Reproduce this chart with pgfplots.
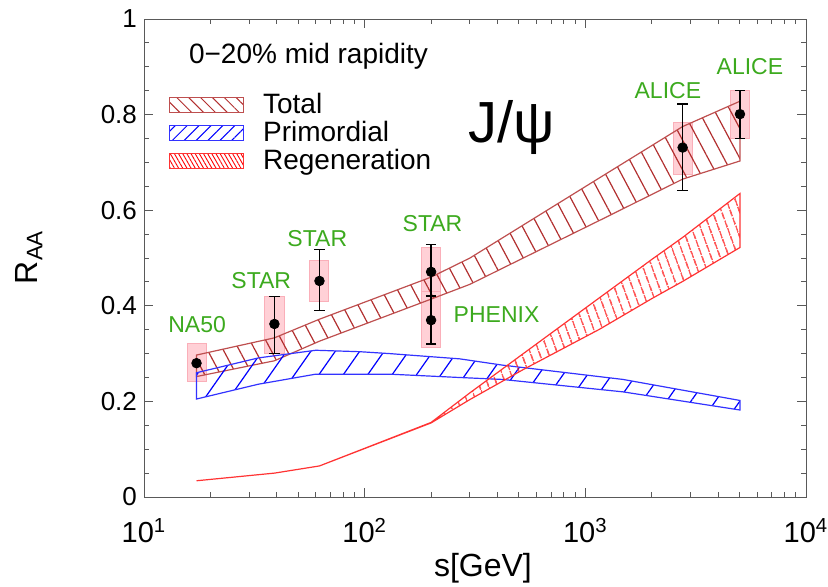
\documentclass[border=0pt]{standalone}
\usepackage{pgfplots}
\pgfplotsset{compat=1.18}
\usepackage{fontspec}
\setmainfont{Liberation Sans}
\usetikzlibrary{patterns.meta}

\definecolor{totc}{RGB}{178,48,48}
\definecolor{primc}{RGB}{0,0,255}
\definecolor{regc}{RGB}{255,0,0}
\definecolor{labc}{RGB}{60,170,30}
\definecolor{boxf}{RGB}{255,208,214}
\definecolor{boxd}{RGB}{250,175,185}

% systematic boxes: x1 x2 ylo yhi
\pgfplotsset{
  sysbox/.style={fill=boxf, draw=boxd, line width=0.5pt, forget plot},
}

\begin{document}
\begin{tikzpicture}
\begin{axis}[
  name=ax,
  scale only axis,
  width=331pt, height=239pt,
  xmode=log,
  xmin=10, xmax=10000,
  ymin=0, ymax=1,
  xtick={10,100,1000,10000},
  xticklabels={10\textsuperscript{1},10\textsuperscript{2},10\textsuperscript{3},10\textsuperscript{4}},
  ytick={0,0.2,0.4,0.6,0.8,1},
  minor y tick num=3,
  xtick pos=both, ytick pos=both,
  xticklabel pos=lower, yticklabel pos=left,
  tick align=inside,
  major tick length=4.5pt, minor tick length=2.5pt,
  axis line style={black!65},
  tick style={black!65, line width=0.5pt},
  /pgf/number format/assume math mode=true,
  /pgf/number format/.cd, fixed, precision=1, /pgfplots/.cd,
  tick label style={font=\fontsize{13}{15}\selectfont},
  xticklabel style={yshift=-7pt, font=\fontsize{14.5}{16}\selectfont},
  xlabel={s[GeV]},
  ylabel={R\textsubscript{AA}},
  label style={font=\fontsize{16}{18}\selectfont},
  xlabel style={at={(axis description cs:0.512,-0.150)}, anchor=center},
  ylabel style={at={(axis description cs:-0.174,0.502)}, anchor=center},
  legend style={at={(0.037,0.848)}, anchor=north west, draw=none, fill=none,
    font=\fontsize{14}{15}\selectfont, inner sep=0pt,
    nodes={inner sep=0.6pt}, row sep=1.2pt,
    /tikz/every odd column/.style={column sep=9pt}},
  legend cell align=left,
]

% systematic uncertainty boxes
\addplot[sysbox] coordinates {(15.67,0.241) (19.10,0.241) (19.10,0.322) (15.67,0.322)} -- cycle;
\addplot[sysbox] coordinates {(35.3,0.300) (43.1,0.300) (43.1,0.420) (35.3,0.420)} -- cycle;
\addplot[sysbox] coordinates {(56.5,0.408) (68.9,0.408) (68.9,0.494) (56.5,0.494)} -- cycle;
\addplot[sysbox] coordinates {(181.2,0.430) (220.8,0.430) (220.8,0.522) (181.2,0.522)} -- cycle;
\addplot[sysbox] coordinates {(181.2,0.312) (220.8,0.312) (220.8,0.430) (181.2,0.430)} -- cycle;
\addplot[sysbox] coordinates {(2500,0.675) (3047,0.675) (3047,0.784) (2500,0.784)} -- cycle;
\addplot[sysbox] coordinates {(4547,0.750) (5542,0.750) (5542,0.851) (4547,0.851)} -- cycle;

% Total band
\addplot[draw=totc!85, line width=0.6pt,
  pattern={Lines[angle=-62, distance=7pt, line width=0.6pt]}, pattern color=totc,
  legend image code/.code={\draw[draw=totc!85, line width=0.6pt,
    pattern={Lines[angle=-45, distance=4.2pt, line width=0.5pt]}, pattern color=totc]
    (0pt,-3.6pt) rectangle (37pt,3.6pt);}]
coordinates {
  (17.3,0.297) (39,0.333) (62.4,0.372) (200,0.460) (300,0.500) (1200,0.672) (2760,0.775) (5020,0.828)
  (5020,0.703) (2760,0.665) (1200,0.582) (300,0.445) (200,0.414) (62.4,0.326) (39,0.285) (17.3,0.252)
} -- cycle;
\addlegendentry{Total}

% Primordial band
\addplot[draw=primc!80, line width=0.6pt,
  pattern={Lines[angle=55, distance=10pt, line width=0.6pt]}, pattern color=primc,
  legend image code/.code={\draw[draw=primc!80, line width=0.6pt,
    pattern={Lines[angle=45, distance=4.2pt, line width=0.5pt]}, pattern color=primc]
    (0pt,-3.6pt) rectangle (37pt,3.6pt);}]
coordinates {
  (17.3,0.260) (33,0.291) (60,0.307) (95,0.304) (130,0.300) (270,0.289) (420,0.276) (1480,0.246) (5020,0.202)
  (5020,0.182) (1480,0.220) (420,0.246) (270,0.250) (130,0.257) (95,0.257) (60,0.257) (33,0.236) (17.3,0.205)
} -- cycle;
\addlegendentry{Primordial}

% Regeneration band
\addplot[draw=regc!80, line width=0.6pt,
  pattern={Lines[angle=-70, distance=4pt, line width=0.55pt]}, pattern color=regc,
  legend image code/.code={\draw[draw=regc!80, line width=0.6pt,
    pattern={Lines[angle=-60, distance=1.8pt, line width=0.45pt]}, pattern color=regc]
    (0pt,-3.6pt) rectangle (37pt,3.6pt);}]
coordinates {
  (17.3,0.034) (39,0.050) (62.4,0.065) (200,0.156) (300,0.218) (520,0.299) (1160,0.417) (2000,0.497) (2760,0.543) (5020,0.635)
  (5020,0.522) (2760,0.451) (2000,0.415) (1160,0.351) (520,0.266) (300,0.204) (200,0.155) (62.4,0.065) (39,0.050) (17.3,0.034)
} -- cycle;
\addlegendentry{Regeneration}

% data points
\addplot[only marks, mark=*, mark size=2.4pt, black, forget plot]
coordinates {(17.3,0.280)};
\addplot[only marks, mark=*, mark size=2.4pt, black, forget plot,
  error bars/.cd, y dir=both, y explicit,
  error bar style={line width=0.6pt, black},
  error mark options={rotate=90, mark size=2.6pt, line width=0.6pt, black}]
table[x=x, y=y, y error plus=ep, y error minus=em] {
  x     y      ep     em
  39    0.362  0.058  0.062
  62.4  0.452  0.065  0.061
  200   0.471  0.058  0.052
  200   0.370  0.051  0.050
  2760  0.731  0.091  0.090
  5020  0.801  0.049  0.051
};

% annotations
\node[anchor=west, font=\fontsize{14}{16}\selectfont] at (rel axis cs:0.0574,0.922) {0−20\% mid rapidity};
\node[font=\fontsize{29}{32}\selectfont] at (rel axis cs:0.556,0.772) {J/ψ};
\begin{scope}[every node/.style={text=labc, font=\fontsize{11.5}{13}\selectfont}]
  \node at (axis cs:17.4,0.360) {NA50};
  \node at (axis cs:34,0.452) {STAR};
  \node at (axis cs:61,0.540) {STAR};
  \node at (axis cs:203,0.571) {STAR};
  \node at (axis cs:396,0.381) {PHENIX};
  \node at (axis cs:2366,0.851) {ALICE};
  \node at (axis cs:5570,0.900) {ALICE};
\end{scope}
\end{axis}
\pgfresetboundingbox
\path ([xshift=-72pt,yshift=-44.5pt]ax.south west) rectangle ([xshift=11pt,yshift=9.5pt]ax.north east);
\end{tikzpicture}
\end{document}
